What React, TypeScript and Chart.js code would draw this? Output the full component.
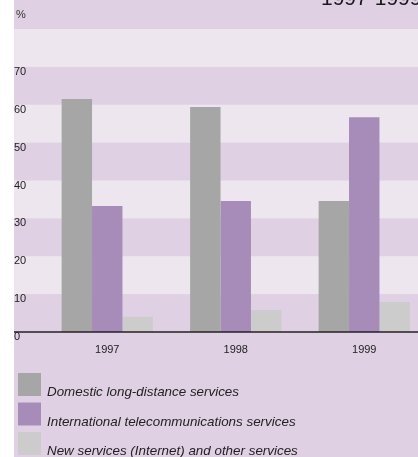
import React, { useEffect, useRef } from "react";
import { Chart, registerables } from "chart.js";

Chart.register(...registerables);

const categories = ["1997", "1998", "1999"];
const domestic = [61.5, 59.4, 34.6];
const international = [33.3, 34.6, 56.7];
const newServices = [4.0, 5.8, 7.9];
const seriesLabels = [
  "Domestic long-distance services",
  "International telecommunications services",
  "New services (Internet) and other services",
];
const yTicks = [0, 10, 20, 30, 40, 50, 60, 70];
const lightBands = [
  [10, 20],
  [30, 40],
  [50, 60],
  [70, 80],
];
const title = "1997-1999";
const unit = "%";

const FONT = "'Liberation Sans', Arial, Helvetica, sans-serif";
const DARK = "#dfd0e3";
const LIGHT = "#ede6ee";
const COLORS = ["#a6a6a6", "#a78bb8", "#cccccc"];
const W = 432;
const H = 457;

const decorPlugin = {
  id: "decor",
  beforeDraw(chart: any) {
    const { ctx, width, height } = chart;
    const y = chart.scales.y;
    ctx.save();
    ctx.fillStyle = DARK;
    ctx.fillRect(14, 0, width - 14, height);
    ctx.fillStyle = LIGHT;
    for (const [a, b] of lightBands) {
      const ya = y.getPixelForValue(a);
      const yb = y.getPixelForValue(b);
      ctx.fillRect(14, yb, width - 14, ya - yb);
    }
    ctx.restore();
  },
  afterDatasetsDraw(chart: any) {
    const { ctx, width } = chart;
    const y = chart.scales.y;
    const y0 = y.getPixelForValue(0);
    ctx.save();
    ctx.strokeStyle = "#222";
    ctx.lineWidth = 1.5;
    ctx.beginPath();
    ctx.moveTo(14, y0);
    ctx.lineTo(width, y0);
    ctx.stroke();
    ctx.restore();
  },
  afterDraw(chart: any) {
    const { ctx } = chart;
    ctx.save();
    // title (cropped at top right)
    ctx.fillStyle = "#1a1a1a";
    ctx.font = `21px ${FONT}`;
    ctx.textAlign = "left";
    ctx.textBaseline = "alphabetic";
    ctx.fillText(title, 321, 5);
    // unit
    ctx.fillStyle = "#333";
    ctx.font = `11px ${FONT}`;
    ctx.fillText(unit, 16, 18);
    // legend
    const datasets = chart.data.datasets;
    ctx.font = `italic 13.4px ${FONT}`;
    datasets.forEach((ds: any, i: number) => {
      const top = 373 + i * 29.5;
      ctx.fillStyle = ds.backgroundColor;
      ctx.fillRect(18, top, 23, 23);
      ctx.fillStyle = "#222";
      ctx.fillText(ds.label, 47, top + 23);
    });
    ctx.restore();
  },
};

export default function App() {
  const ref = useRef<HTMLCanvasElement | null>(null);
  useEffect(() => {
    if (!ref.current) return;
    const chart = new Chart(ref.current, {
      type: "bar",
      data: {
        labels: categories,
        datasets: [
          { label: seriesLabels[0], data: domestic, backgroundColor: COLORS[0] },
          { label: seriesLabels[1], data: international, backgroundColor: COLORS[1] },
          { label: seriesLabels[2], data: newServices, backgroundColor: COLORS[2] },
        ],
      },
      options: {
        responsive: false,
        animation: false,
        devicePixelRatio: 1,
        layout: { padding: { top: 29, left: 14, right: 3.5, bottom: 0 } },
        datasets: { bar: { categoryPercentage: 0.71, barPercentage: 1, borderWidth: 0 } },
        plugins: {
          legend: { display: false },
          tooltip: { enabled: false },
          title: { display: false },
        },
        scales: {
          x: {
            grid: { display: false },
            border: { display: false },
            ticks: { color: "#222", font: { family: FONT, size: 11 }, padding: 3 },
            afterFit: (s: any) => {
              s.height = 125;
            },
          },
          y: {
            min: 0,
            max: 80,
            grid: { display: false, drawTicks: false },
            border: { display: false },
            afterBuildTicks: (s: any) => {
              s.ticks = yTicks.map((v) => ({ value: v }));
            },
            ticks: {
              color: "#222",
              font: { family: FONT, size: 11 },
              crossAlign: "far",
              labelOffset: 5,
              padding: 0,
            },
            afterFit: (s: any) => {
              s.width = 29;
            },
          },
        },
      },
      plugins: [decorPlugin],
    } as any);
    return () => chart.destroy();
  }, []);
  return (
    <div
      style={{
        position: "fixed",
        left: 0,
        top: 0,
        width: 418,
        height: H,
        overflow: "hidden",
        background: "#fff",
      }}
    >
      <canvas ref={ref} width={W} height={H} style={{ display: "block", width: W, height: H }} />
    </div>
  );
}
